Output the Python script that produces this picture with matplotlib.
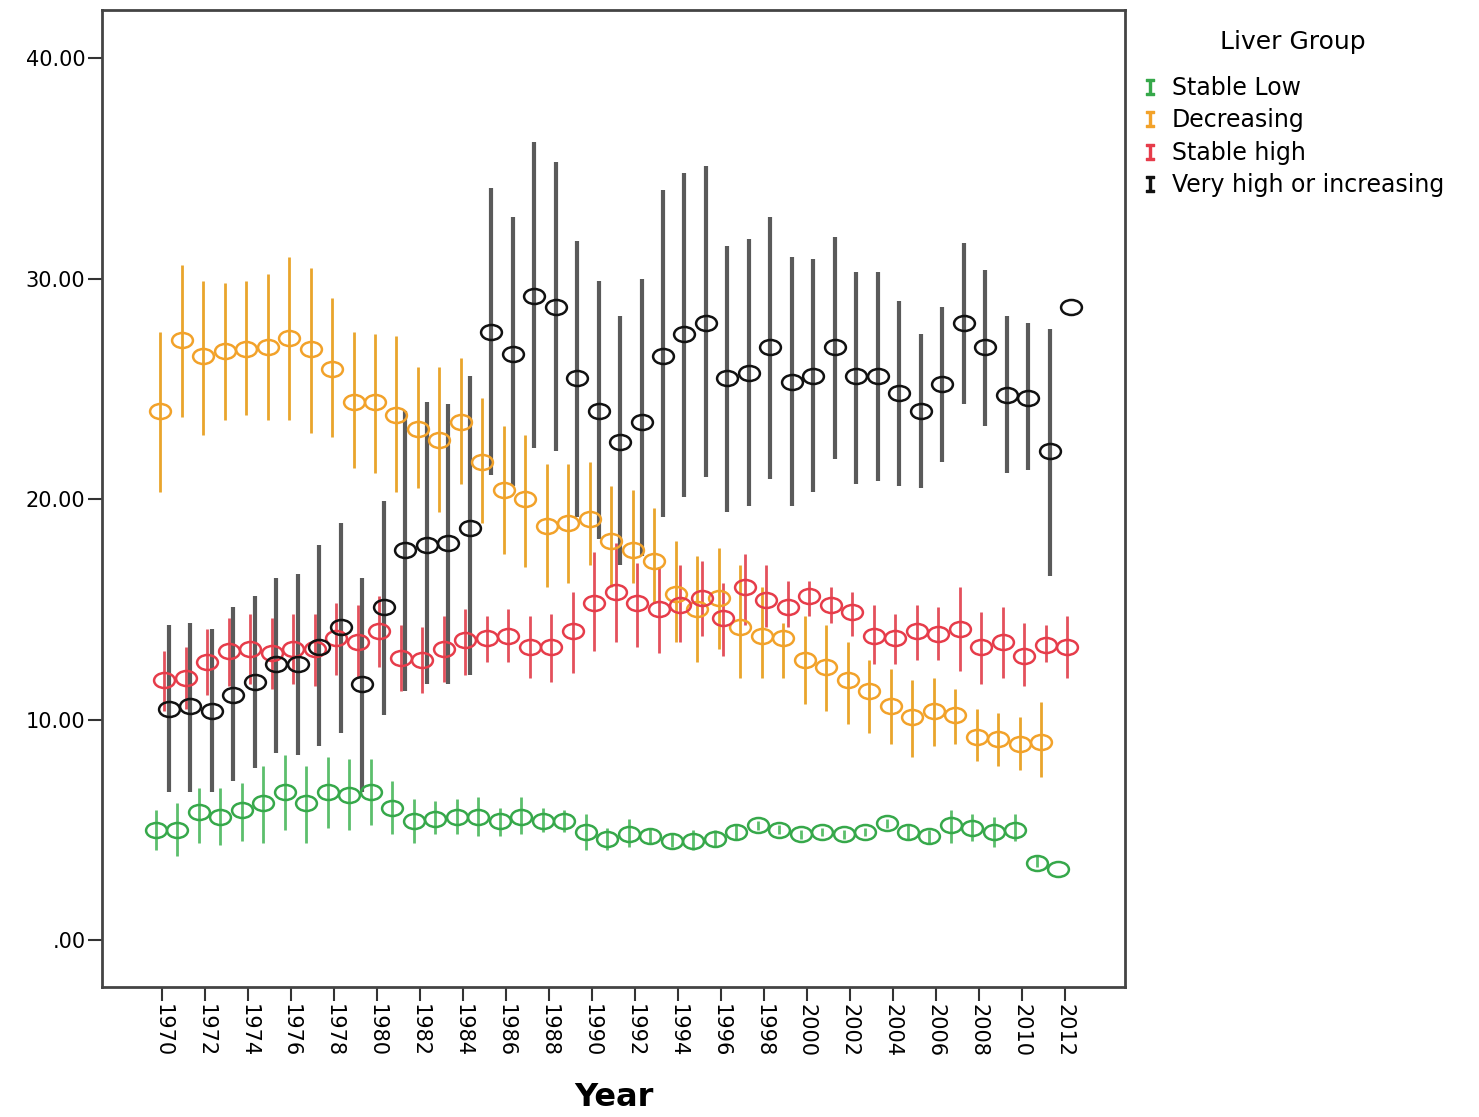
import numpy as np
import matplotlib
matplotlib.use("Agg")
import matplotlib.pyplot as plt
from matplotlib.path import Path
from matplotlib.transforms import Affine2D
from matplotlib.lines import Line2D

plt.rcParams['font.family'] = ['DejaVu Sans']

years = np.arange(1970, 2013)
nan = np.nan

# Stable Low
green_mean = [5.0, 5.0, 5.8, 5.6, 5.9, 6.2, 6.7, 6.2, 6.7, 6.6, 6.7, 6.0, 5.4, 5.5, 5.6,
              5.6, 5.4, 5.6, 5.4, 5.4, 4.9, 4.6, 4.8, 4.7, 4.5, 4.5, 4.6, 4.9, 5.2, 5.0,
              4.8, 4.9, 4.8, 4.9, 5.3, 4.9, 4.7, 5.2, 5.1, 4.9, 5.0, 3.5, 3.2]
green_low = [4.1, 3.8, 4.4, 4.3, 4.5, 4.4, 5.0, 4.4, 5.1, 5.0, 5.2, 4.8, 4.4, 4.8, 4.8,
             4.7, 4.7, 4.8, 4.9, 4.9, 4.1, 4.1, 4.2, 4.4, 4.2, 4.1, 4.2, 4.6, 5.0, 4.8,
             4.6, 4.7, 4.6, 4.7, 5.1, 4.6, 4.4, 4.4, 4.5, 4.2, 4.5, 3.3, nan]
green_high = [5.9, 6.2, 6.9, 6.9, 7.1, 7.9, 8.4, 7.9, 8.3, 8.2, 8.2, 7.2, 6.4, 6.3, 6.4,
              6.5, 6.0, 6.5, 6.0, 5.9, 5.7, 5.1, 5.5, 5.1, 4.8, 5.0, 5.0, 5.2, 5.4, 5.2,
              5.0, 5.1, 5.0, 5.1, 5.5, 5.2, 5.0, 5.9, 5.7, 5.6, 5.7, 3.8, nan]

# Decreasing
orange_mean = [24.0, 27.2, 26.5, 26.7, 26.8, 26.9, 27.3, 26.8, 25.9, 24.4, 24.4, 23.8, 23.2, 22.7, 23.5,
               21.7, 20.4, 20.0, 18.8, 18.9, 19.1, 18.1, 17.7, 17.2, 15.7, 15.0, 15.5, 14.2, 13.8, 13.7,
               12.7, 12.4, 11.8, 11.3, 10.6, 10.1, 10.4, 10.2, 9.2, 9.1, 8.9, 9.0, nan]
orange_low = [20.3, 23.7, 22.9, 23.6, 23.8, 23.6, 23.6, 23.0, 22.8, 21.4, 21.2, 20.3, 20.5, 19.4, 20.7,
              18.9, 17.5, 16.9, 16.0, 16.2, 17.0, 16.0, 16.2, 15.3, 13.5, 12.6, 13.2, 11.9, 11.9, 11.9,
              10.7, 10.4, 9.8, 9.4, 8.9, 8.3, 8.8, 8.9, 8.1, 7.9, 7.7, 7.4, nan]
orange_high = [27.6, 30.6, 29.9, 29.8, 29.9, 30.2, 31.0, 30.5, 29.1, 27.6, 27.5, 27.4, 26.0, 26.0, 26.4,
               24.6, 23.3, 22.9, 21.6, 21.6, 21.7, 20.6, 20.4, 19.6, 18.1, 17.4, 17.8, 17.0, 16.0, 14.4,
               14.7, 14.3, 13.5, 12.7, 12.3, 11.8, 11.9, 11.4, 10.5, 10.3, 10.1, 10.8, nan]

# Stable high
red_mean = [11.8, 11.9, 12.6, 13.1, 13.2, 13.0, 13.2, 13.2, 13.7, 13.5, 14.0, 12.8, 12.7, 13.2, 13.6,
            13.7, 13.8, 13.3, 13.3, 14.0, 15.3, 15.8, 15.3, 15.0, 15.2, 15.5, 14.6, 16.0, 15.4, 15.1,
            15.6, 15.2, 14.9, 13.8, 13.7, 14.0, 13.9, 14.1, 13.3, 13.5, 12.9, 13.4, 13.3]
red_low = [10.4, 10.5, 11.1, 11.5, 11.6, 11.4, 11.6, 11.5, 12.0, 11.9, 12.4, 11.3, 11.2, 11.7, 12.0,
           12.6, 12.6, 11.9, 11.7, 12.1, 13.1, 13.5, 13.3, 13.0, 13.5, 13.8, 12.9, 14.3, 14.2, 14.2,
           14.7, 14.4, 13.8, 12.5, 12.5, 12.7, 12.7, 12.2, 11.6, 11.9, 11.5, 12.6, 11.9]
red_high = [13.1, 13.3, 14.1, 14.6, 14.8, 14.6, 14.8, 14.8, 15.3, 15.2, 15.6, 14.3, 14.2, 14.7, 15.0,
            14.7, 15.0, 14.7, 14.8, 15.8, 17.6, 18.0, 17.1, 16.9, 17.0, 17.2, 16.2, 17.5, 17.0, 16.3,
            16.3, 16.0, 15.8, 15.2, 14.8, 15.2, 15.1, 16.0, 14.9, 15.1, 14.4, 14.3, 14.7]

# Very high or increasing
black_mean = [10.5, 10.6, 10.4, 11.1, 11.7, 12.5, 12.5, 13.3, 14.2, 11.6, 15.1, 17.7, 17.9, 18.0, 18.7,
              27.6, 26.6, 29.2, 28.7, 25.5, 24.0, 22.6, 23.5, 26.5, 27.5, 28.0, 25.5, 25.7, 26.9, 25.3,
              25.6, 26.9, 25.6, 25.6, 24.8, 24.0, 25.2, 28.0, 26.9, 24.7, 24.6, 22.2, 28.7]
black_low = [6.7, 6.7, 6.7, 7.2, 7.8, 8.5, 8.4, 8.8, 9.4, 6.7, 10.2, 11.3, 11.6, 11.6, 12.0,
             21.1, 20.6, 22.3, 22.2, 19.2, 18.2, 17.0, 17.4, 19.2, 20.1, 21.0, 19.4, 19.7, 20.9, 19.7,
             20.3, 21.8, 20.7, 20.8, 20.6, 20.5, 21.7, 24.3, 23.3, 21.2, 21.3, 16.5, nan]
black_high = [14.3, 14.4, 14.1, 15.1, 15.6, 16.4, 16.6, 17.9, 18.9, 16.4, 19.9, 24.0, 24.4, 24.3, 25.6,
              34.1, 32.8, 36.2, 35.3, 31.7, 29.9, 28.3, 30.0, 34.0, 34.8, 35.1, 31.5, 31.8, 32.8, 31.0,
              30.9, 31.9, 30.3, 30.3, 29.0, 27.5, 28.7, 31.6, 30.4, 28.3, 28.0, 27.7, nan]

groups = ['Stable Low', 'Decreasing', 'Stable high', 'Very high or increasing']
means = [green_mean, orange_mean, red_mean, black_mean]
lows = [green_low, orange_low, red_low, black_low]
highs = [green_high, orange_high, red_high, black_high]
edge_colors = ['#36a84a', '#f2a22a', '#e63c4a', '#111111']
bar_colors = ['#5cbf6c', '#e9a52c', '#e4505c', '#5a5a5a']
bar_widths = [2.0, 2.0, 2.0, 3.0]
offsets = [-0.3, -0.1, 0.1, 0.3]

# slightly flattened circle like the SPSS marker
ellipse = Path.unit_circle().transformed(Affine2D().scale(1.0, 0.72))

fig = plt.figure(figsize=(14.79, 11.17), dpi=100)
ax = fig.add_axes([0.069, 0.1164, 0.6917, 0.8746])

# bars first, circles on top
for i in range(4):
    x = years + offsets[i]
    lo = np.array(lows[i], dtype=float)
    hi = np.array(highs[i], dtype=float)
    ok = ~np.isnan(lo)
    ax.vlines(x[ok], lo[ok], hi[ok], color=bar_colors[i], lw=bar_widths[i], zorder=2)

for i in range(4):
    x = years + offsets[i]
    ax.plot(x, means[i], linestyle='none', marker=ellipse, markersize=15,
            markerfacecolor='none', markeredgecolor=edge_colors[i],
            markeredgewidth=1.8, zorder=3)

ax.set_xlim(1967.2, 2014.8)
ax.set_ylim(-2.13, 42.18)
ax.set_yticks([0, 10, 20, 30, 40])
ax.set_yticklabels(['.00', '10.00', '20.00', '30.00', '40.00'], fontsize=15)
ax.set_xticks(np.arange(1970, 2013, 2))
ax.set_xticklabels([str(y) for y in range(1970, 2013, 2)], rotation=-90, fontsize=15)
ax.tick_params(axis='both', direction='out', length=10, width=1.5, color='#333333', pad=2)
ax.set_xlabel('Year', fontsize=23, fontweight='bold', labelpad=18)

for s in ax.spines.values():
    s.set_linewidth(2)
    s.set_color('#444444')

handles = [Line2D([], [], linestyle='none', marker=r'$\mathtt{I}$', markersize=11,
                  color=edge_colors[i]) for i in range(4)]
leg = fig.legend(handles, groups, loc='upper left', bbox_to_anchor=(0.765, 0.982),
                 frameon=False, prop={'size': 17}, title='Liver Group', title_fontsize=18,
                 handlelength=0.8, handletextpad=0.5, labelspacing=0.36, borderaxespad=0)
leg._legend_box.sep = 16

fig.savefig('out.png', dpi=100)
